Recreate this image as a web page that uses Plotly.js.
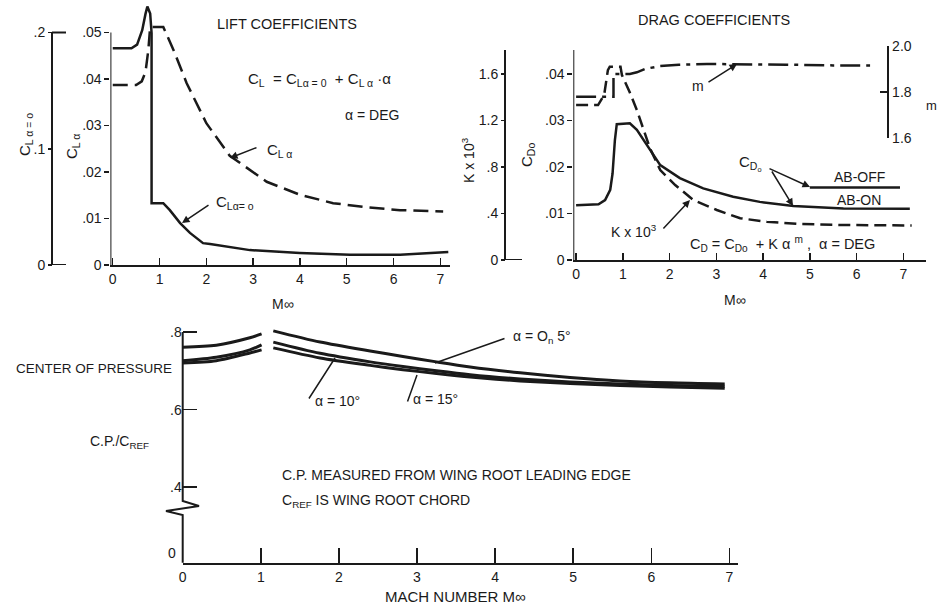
<!DOCTYPE html>
<html><head><meta charset="utf-8">
<script src="https://cdn.plot.ly/plotly-3.0.1.min.js"></script>
<style>html,body{margin:0;padding:0;background:#fff}#c{width:939px;height:608px}</style>
</head><body><div id="c"></div>
<script>
// ---------- DATA ----------
// Lift coefficients
const liftMachCLa = [0, 0.5, 0.62, 0.7, 0.76, 0.8, 1.08, 1.3, 1.58, 2.0, 2.5, 3.29, 4.0, 4.71, 5.43, 6.14, 7.06];
const liftCLa     = [.0387,.0387,.0395,.0415,.0462,.0512,.0512,.0462,.0391,.0305,.0235,.0179,.0151,.0133,.0124,.0118,.0115];
const liftMachCL0 = [0, 0.4, 0.52, 0.63, 0.7, 0.74, 0.8, 0.83, 0.83, 1.08, 1.22, 1.44, 1.65, 1.93, 2.08, 2.93, 4.0, 5.07, 6.14, 7.17];
const liftCL0     = [.1864,.1864,.1896,.202,.216,.2224,.2164,.1996,.0532,.0532,.0472,.036,.0276,.0188,.018,.0128,.0104,.0088,.0088,.0112];
// Drag coefficients
const dragMachABon  = [0, 0.48, 0.62, 0.73, 0.78, 0.83, 0.87, 1.15, 1.3, 1.44, 1.8, 2.22, 2.72, 3.36, 3.93, 4.65, 5.72, 7.14];
const cd0ABon       = [.0118,.0120,.0129,.0151,.0186,.0258,.0292,.0294,.0280,.0258,.0204,.0176,.0154,.0136,.0125,.0116,.0111,.0110];
const dragMachABoff = [5.0, 6.93];
const cd0ABoff      = [.0156, .0156];
const dragMachK = [0, 0.47, 0.6, 0.68, 0.72, 0.95, 0.98, 1.15, 1.30, 1.44, 1.58, 1.80, 2.12, 2.51, 3.01, 3.51, 4.08, 4.79, 5.72, 7.18];
const kTimes1e3 = [1.333,1.333,1.419,1.634,1.663,1.663,1.591,1.44,1.29,1.118,0.961,0.774,0.645,0.516,0.43,0.359,0.329,0.31,0.301,0.297];
const dragMachM = [0, 0.8, 0.8, 1.15, 1.3, 1.48, 1.8, 2.2, 2.8, 3.5, 4.5, 5.5, 6.29];
const mExponent = [1.78, 1.78, 1.878, 1.878, 1.885, 1.90, 1.912, 1.918, 1.921, 1.921, 1.918, 1.915, 1.914];
// Center of pressure
const cpMach  = [0, 0.43, 0.86, 1.01, 1.08, 1.16, 1.76, 2.40, 2.82, 3.25, 3.68, 4.32, 4.96, 5.6, 6.24, 6.94];
const cpA0_5  = [.761,.766,.785,.795,null,.803,.774,.751,.737,.723,.710,.695,.683,.674,.669,.666];
const cpA10   = [.726,.735,.754,.767,null,.774,.745,.723,.711,.700,.690,.679,.671,.666,.662,.660];
const cpA15   = [.720,.726,.746,.754,null,.759,.733,.714,.703,.693,.684,.674,.667,.662,.658,.655];
const machTicks = [0,1,2,3,4,5,6,7];

// ---------- HELPERS ----------
const W = 939, H = 608;
const X = px => px / W;
const Y = py => 1 - py / H;
const INK = '#1a1a1a';
const FONT = 'Liberation Sans, Arial, sans-serif';
function f(size) { return {family:FONT, size:size, color:INK}; }
function txt(px, py, text, o) {
  return Object.assign({xref:'paper', yref:'paper', x:X(px), y:Y(py), text:text, showarrow:false,
    xanchor:'center', yanchor:'middle', font:f(14)}, o || {});
}
function arr(x0, y0, x1, y1, head) {
  return {xref:'paper', yref:'paper', x:X(x1), y:Y(y1), ax:x0 - x1, ay:y0 - y1, axref:'pixel', ayref:'pixel',
    text:'', showarrow:true, arrowhead:head ? 2 : 0, arrowsize:1, arrowwidth:1.5, arrowcolor:INK, standoff:0, startstandoff:0};
}
const tickFont = f(14);
const baseAx = {showgrid:false, zeroline:false, tickfont:tickFont, tickcolor:INK, linecolor:INK, fixedrange:true};

// ---------- TRACES ----------
const traces = [
  {x:liftMachCLa, y:liftCLa, xaxis:'x', yaxis:'y', mode:'lines', line:{color:INK, width:2.5, dash:'15px,7px'}},
  {x:liftMachCL0, y:liftCL0, xaxis:'x', yaxis:'y2', mode:'lines', line:{color:INK, width:2.5}},
  {x:dragMachABon, y:cd0ABon, xaxis:'x2', yaxis:'y3', mode:'lines', line:{color:INK, width:2.5}},
  {x:dragMachABoff, y:cd0ABoff, xaxis:'x2', yaxis:'y3', mode:'lines', line:{color:INK, width:2.5}},
  {x:dragMachK, y:kTimes1e3, xaxis:'x2', yaxis:'y4', mode:'lines', line:{color:INK, width:2.5, dash:'12px,6px'}},
  {x:dragMachM, y:mExponent, xaxis:'x2', yaxis:'y5', mode:'lines', line:{color:INK, width:2.5, dash:'20px,6px,4px,6px'}},
  {x:cpMach, y:cpA0_5, xaxis:'x3', yaxis:'y6', mode:'lines', line:{color:INK, width:3, shape:'spline', smoothing:0.8}, connectgaps:false},
  {x:cpMach, y:cpA10, xaxis:'x3', yaxis:'y6', mode:'lines', line:{color:INK, width:3, shape:'spline', smoothing:0.8}, connectgaps:false},
  {x:cpMach, y:cpA15, xaxis:'x3', yaxis:'y6', mode:'lines', line:{color:INK, width:3, shape:'spline', smoothing:0.8}, connectgaps:false}
];

// ---------- LAYOUT ----------
const liftTop = (265 - 2) / 4650;
const dragTop = (260 - 40) / 4650;
const cpBottom = 0.8 - (562.7 - 332) / 388;
const cpTop = 0.8 + 10 / 388;

const layout = {
  width:W, height:H, margin:{l:0, r:0, t:0, b:0}, autosize:false, showlegend:false,
  paper_bgcolor:'#fff', plot_bgcolor:'rgba(0,0,0,0)',
  // lift
  xaxis: Object.assign({}, baseAx, {domain:[X(110.4), X(449.7)], range:[-0.05, 7.2], anchor:'y',
    tickvals:machTicks, ticks:'inside', ticklen:7, tickwidth:1.5, showline:true, linewidth:2}),
  yaxis: Object.assign({}, baseAx, {domain:[Y(265), Y(2)], range:[0, liftTop], anchor:'x', showline:false,
    tickvals:[0,.01,.02,.03,.04,.05], ticktext:['0','.01','.02','.03','.04','.05'], ticks:'outside', ticklen:5, tickwidth:1.5}),
  yaxis2: Object.assign({}, baseAx, {overlaying:'y', anchor:'free', position:X(52), side:'left', range:[0, liftTop*4],
    showline:false, tickvals:[0,.1,.2], ticktext:['0','.1','.2'], ticks:'outside', ticklen:4, tickwidth:1.5}),
  // drag
  xaxis2: Object.assign({}, baseAx, {domain:[X(573.3), X(925.7)], range:[-0.06, 7.48], anchor:'y3',
    tickvals:machTicks, ticks:'inside', ticklen:7, tickwidth:1.5, showline:true, linewidth:2}),
  yaxis3: Object.assign({}, baseAx, {domain:[Y(260), Y(40)], range:[0, dragTop], anchor:'x2', showline:false,
    tickvals:[0,.01,.02,.03,.04], ticktext:['0','.01','.02','.03','.04'], ticks:'outside', ticklen:5, tickwidth:1.5}),
  yaxis4: Object.assign({}, baseAx, {overlaying:'y3', anchor:'free', position:X(505), side:'left', range:[0, dragTop*40],
    showline:false, tickvals:[0,.4,.8,1.2,1.6], ticktext:['0','.4','.8','1.2','1.6'], ticks:'outside', ticklen:4, tickwidth:1.5}),
  yaxis5: Object.assign({}, baseAx, {anchor:'free', position:X(888.3), side:'right', domain:[Y(138.3), Y(45.7)], range:[1.6, 2.0],
    showline:true, linewidth:2, tickvals:[1.6,1.8,2.0], ticktext:['1.6','1.8','2.0'], ticks:'inside', ticklen:7, tickwidth:1.5}),
  // center of pressure
  xaxis3: Object.assign({}, baseAx, {domain:[X(182.7), X(738.3)], range:[0, 7.114], anchor:'y6',
    tickvals:machTicks, ticks:'inside', ticklen:15, tickwidth:1.5, showline:true, linewidth:2}),
  yaxis6: Object.assign({}, baseAx, {domain:[Y(562.7), Y(322)], range:[cpBottom, cpTop], anchor:'x3', showline:false,
    tickvals:[.4,.6,.8], ticktext:['.4','.6','.8'], ticks:'inside', ticklen:14, tickwidth:1.5}),
  shapes: [
    {type:'line', xref:'x', yref:'y', x0:-0.05, x1:-0.05, y0:0, y1:.05, line:{color:INK, width:2}},
    {type:'line', xref:'paper', yref:'y2', x0:X(52), x1:X(52), y0:0, y1:.2, line:{color:INK, width:2}},
    {type:'line', xref:'paper', yref:'y2', x0:X(52), x1:X(66), y0:0, y1:0, line:{color:INK, width:2}},
    {type:'line', xref:'paper', yref:'y2', x0:X(52), x1:X(66), y0:.2, y1:.2, line:{color:INK, width:2}},
    {type:'line', xref:'x2', yref:'y3', x0:-0.06, x1:-0.06, y0:0, y1:(260-50)/4650, line:{color:INK, width:2}},
    {type:'line', xref:'paper', yref:'y4', x0:X(505), x1:X(505), y0:0, y1:(260-50)/4650*40, line:{color:INK, width:2}},
    {type:'line', xref:'paper', yref:'y4', x0:X(505), x1:X(522), y0:0, y1:0, line:{color:INK, width:2}},
    {type:'path', xref:'paper', yref:'paper', line:{color:INK, width:2},
      path:'M '+X(182.7)+' '+Y(332)+' L '+X(182.7)+' '+Y(501)+' L '+X(199)+' '+Y(506)+' L '+X(166)+' '+Y(511)+
           ' L '+X(182.7)+' '+Y(515)+' L '+X(182.7)+' '+Y(562.7)}
  ],
  annotations: [
    // lift
    txt(286.7, 24, 'LIFT COEFFICIENTS', {font:f(14.5)}),
    txt(246, 80, 'C<sub>L</sub>  = C<sub>Lα = 0</sub>  + C<sub>L α</sub> ·α', {xanchor:'left', font:f(15)}),
    txt(343, 115, 'α = DEG', {xanchor:'left'}),
    txt(265, 150, 'C<sub>L α</sub>', {xanchor:'left', font:f(15)}),
    arr(258, 147, 230, 158, true),
    txt(214, 203, 'C<sub>Lα= o</sub>', {xanchor:'left', font:f(15)}),
    arr(210, 204, 182, 223, true),
    txt(25, 135, 'C<sub>L α = o</sub>', {textangle:-90, font:f(15)}),
    txt(72, 147, 'C<sub>L α</sub>', {textangle:-90, font:f(15)}),
    txt(283, 304, 'M∞'),
    // drag
    txt(714, 20, 'DRAG COEFFICIENTS', {font:f(14.5)}),
    txt(698, 86, 'm'),
    arr(707, 83, 737, 64, true),
    txt(750, 163, 'C<sub>D<sub>o</sub></sub>', {font:f(15)}),
    arr(768, 168, 810, 187, true),
    arr(771, 170, 793, 206, true),
    txt(859, 177, 'AB-OFF'),
    txt(859, 200, 'AB-ON'),
    txt(634, 231, 'K x 10<sup>3</sup>'),
    arr(662, 230, 690, 200, true),
    txt(688, 244, 'C<sub>D</sub> = C<sub>Do</sub>  + K α <sup>m</sup> ,  α = DEG', {xanchor:'left', font:f(14.5)}),
    txt(468, 160, 'K x 10<sup>3</sup>', {textangle:-90}),
    txt(528, 155, 'C<sub>Do</sub>', {textangle:-90, font:f(15)}),
    txt(931, 106, 'm', {font:f(13)}),
    txt(735, 300, 'M∞'),
    // center of pressure
    txt(94, 368, 'CENTER OF PRESSURE', {font:f(13.5)}),
    txt(119, 442, 'C.P./C<sub>REF</sub>'),
    txt(172, 553, '0'),
    txt(280, 475, 'C.P. MEASURED FROM WING ROOT LEADING EDGE', {xanchor:'left'}),
    txt(280, 501, 'C<sub>REF</sub> IS WING ROOT CHORD', {xanchor:'left'}),
    txt(455, 596, 'MACH NUMBER M∞', {font:f(15)}),
    txt(511, 337, 'α = O<sub>n</sub> 5°', {xanchor:'left'}),
    arr(506, 338, 435, 363, false),
    txt(313, 401, 'α = 10°', {xanchor:'left'}),
    arr(308, 400, 335, 358, false),
    txt(411, 399, 'α = 15°', {xanchor:'left'}),
    arr(407, 403, 417, 375, false)
  ]
};

Plotly.newPlot('c', traces, layout, {staticPlot:true, displayModeBar:false});
</script></body></html>
